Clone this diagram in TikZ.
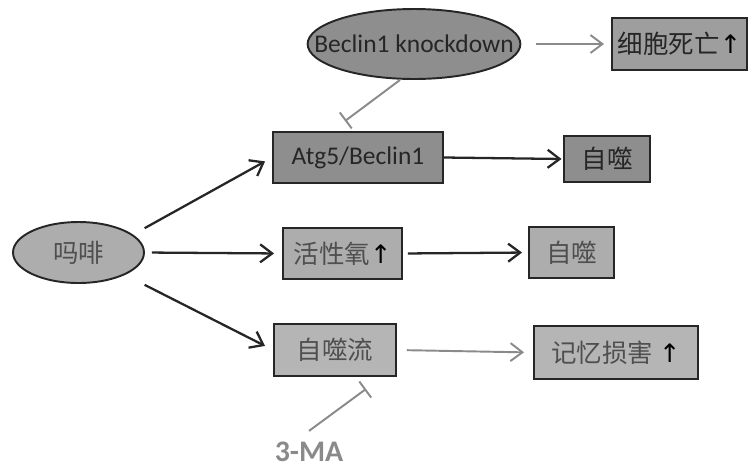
\documentclass[tikz,border=0pt]{standalone}
\usepackage{fontspec}
\setmainfont{Carlito}
\newfontfamily\cjk{Noto Sans CJK SC}
\newfontfamily\symfont{DejaVu Sans}
\usepackage{xcolor}
\usetikzlibrary{arrows.meta, shapes.geometric}
\definecolor{darkfill}{HTML}{8E8E8E}
\definecolor{midfill}{HTML}{9E9E9E}
\definecolor{lightfill}{HTML}{ADADAD}
\definecolor{linegray}{HTML}{8A8A8A}
\definecolor{textdark}{HTML}{262626}
\definecolor{textlight}{HTML}{4F4F4F}
\newcommand{\incr}{{\color{black}\symfont ↑}}

\begin{document}
\begin{tikzpicture}[
    x=0.02cm, y=-0.02cm,
    font=\fontsize{14.5}{17}\selectfont,
    box/.style={draw=black!85, line width=1.1pt, minimum height=1.02cm, align=center, inner sep=2pt},
    darkbox/.style={box, fill=darkfill, text=textdark},
    lightbox/.style={box, fill=lightfill, text=textlight},
    oval/.style={ellipse, draw=black!85, line width=1.1pt, inner sep=0pt},
    arr/.style={-{Straight Barb[length=2.4mm, width=3.6mm]}, line width=1.3pt, black!85},
    grayarr/.style={-{Straight Barb[length=2.4mm, width=3.6mm]}, line width=1.1pt, linegray},
    block/.style={-{Bar[width=4mm]}, line width=1.1pt, linegray}
]
\useasboundingbox (0,0) rectangle (750,467);

% Main nodes
\node[oval, fill=darkfill, text=textdark, inner xsep=-4.9mm, minimum height=1.4cm] (beclin) at (414,44) {Beclin1 knockdown};
\node[box, fill=midfill, text=textdark, minimum width=2.7cm, minimum height=1.04cm] (death) at (679.5,44) {{\cjk 细胞死亡}\incr};
\node[darkbox, minimum width=3.4cm] (atg) at (358,157.5) {Atg5/Beclin1};
\node[darkbox, minimum width=1.72cm, minimum height=0.92cm] (auto1) at (607,159) {\cjk 自噬};
\node[oval, fill=lightfill, text=textlight, minimum width=2.62cm, minimum height=1.22cm] (morph) at (78.5,252.5) {\cjk 吗啡};
\node[lightbox, minimum width=2.38cm] (ros) at (342.5,253.5) {{\cjk 活性氧}\incr};
\node[lightbox, minimum width=1.7cm] (auto2) at (571.5,252.5) {\cjk 自噬};
\node[lightbox, fill=lightfill!90!white, minimum width=2.44cm, minimum height=1.04cm] (flux) at (335,350) {\cjk 自噬流};
\node[lightbox, fill=lightfill!90!white, minimum width=3.28cm, minimum height=1.06cm] (memory) at (616,352.5) {{\cjk 记忆损害} \incr};
\node[text=linegray, font=\fontsize{17}{20}\selectfont\bfseries] (ma) at (309,452) {3-MA};

% Arrows from morphine
\draw[arr, shorten >=1.6mm] ([xshift=4.8mm]morph.30) -- (atg.west);
\draw[arr, shorten <=1.4mm, shorten >=1.6mm] (morph.east) -- (ros.west);
\draw[arr, shorten >=1.8mm] ([shift={(4.8mm,-1.6mm)}]morph.-30) -- (flux.west);

% Downstream arrows
\draw[arr, shorten >=0.3mm] (atg.east) -- (auto1.west);
\draw[arr, shorten <=1mm, shorten >=1.2mm] (ros.east) -- (auto2.west);
\draw[grayarr, shorten <=2mm, shorten >=1.8mm] (flux.east) -- (memory.west);
\draw[grayarr, shorten <=3mm, shorten >=1.4mm] (beclin.east) -- (death.west);

% Inhibition
\draw[block] ([xshift=-2.8mm]beclin.south) -- ([shift={(-2.6mm,2mm)}]atg.north);
\draw[block] ([yshift=1mm]ma.north) -- ([shift={(6.2mm,-2.4mm)}]flux.south);

\end{tikzpicture}
\end{document}
